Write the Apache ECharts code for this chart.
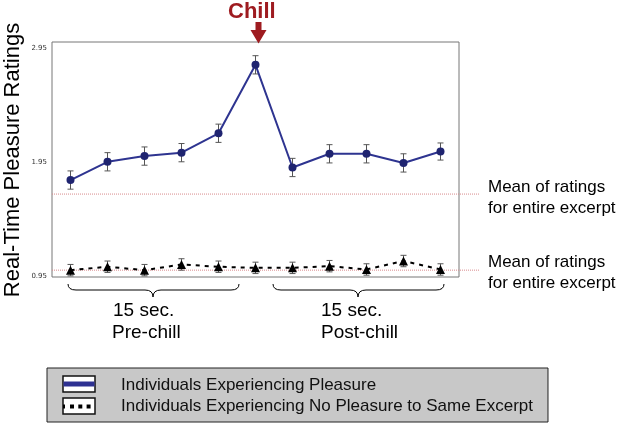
<!DOCTYPE html>
<html><head><meta charset="utf-8">
<script src="https://cdn.jsdelivr.net/npm/echarts@6/dist/echarts.min.js"></script>
<style>html,body{margin:0;padding:0;background:#fff}#c{width:619px;height:426px}</style>
</head><body><div id="c"></div>
<script>
const categories = ['1','2','3','4','5','6','7','8','9','10','11'];
const pleasureMeans = [1.79, 1.95, 2.00, 2.03, 2.20, 2.80, 1.90, 2.02, 2.02, 1.94, 2.04];
const pleasureErr = [0.08, 0.08, 0.08, 0.08, 0.08, 0.08, 0.08, 0.08, 0.08, 0.08, 0.075];
const noPleasureMeans = [1.00, 1.03, 1.00, 1.05, 1.03, 1.02, 1.02, 1.035, 1.006, 1.08, 1.006];
const noPleasureErr = [0.05, 0.05, 0.05, 0.05, 0.05, 0.05, 0.05, 0.05, 0.05, 0.05, 0.05];
const excerptMeans = [1.667, 1.0];
const tickLabels = [0.95, 1.95, 2.95];
const seriesNames = ['Individuals Experiencing Pleasure', 'Individuals Experiencing No Pleasure to Same Excerpt'];
const yTitle = 'Real-Time Pleasure Ratings';

const FONT = 'Liberation Sans, Arial, sans-serif';
const chart = echarts.init(document.getElementById('c'));

function errData(means, errs) {
  return means.map((m, i) => [i, m - errs[i], m + errs[i]]);
}
function errRender(params, api) {
  const x = api.value(0);
  const lo = api.coord([x, api.value(1)]);
  const hi = api.coord([x, api.value(2)]);
  const w = 3;
  const st = { stroke: '#555', lineWidth: 1, fill: null };
  return { type: 'group', children: [
    { type: 'line', shape: { x1: lo[0], y1: lo[1], x2: hi[0], y2: hi[1] }, style: st },
    { type: 'line', shape: { x1: lo[0] - w, y1: lo[1], x2: lo[0] + w, y2: lo[1] }, style: st },
    { type: 'line', shape: { x1: hi[0] - w, y1: hi[1], x2: hi[0] + w, y2: hi[1] }, style: st }
  ]};
}
function brace(x1, tip, x2, yTop, yMid, yTip) {
  const st = { stroke: '#000', lineWidth: 1, fill: null };
  return [
    { type: 'bezierCurve', shape: { x1: x1, y1: yTop, cpx1: x1, cpy1: yMid, x2: x1 + 8, y2: yMid }, style: st },
    { type: 'line', shape: { x1: x1 + 8, y1: yMid, x2: tip - 8, y2: yMid }, style: st },
    { type: 'bezierCurve', shape: { x1: tip - 8, y1: yMid, cpx1: tip, cpy1: yMid, x2: tip, y2: yTip }, style: st },
    { type: 'bezierCurve', shape: { x1: tip, y1: yTip, cpx1: tip, cpy1: yMid, x2: tip + 8, y2: yMid }, style: st },
    { type: 'line', shape: { x1: tip + 8, y1: yMid, x2: x2 - 8, y2: yMid }, style: st },
    { type: 'bezierCurve', shape: { x1: x2 - 8, y1: yMid, cpx1: x2, cpy1: yMid, x2: x2, y2: yTop }, style: st }
  ];
}

const option = {
  animation: false,
  backgroundColor: '#fff',
  grid: [
    { left: 52, top: 42, width: 407, height: 235, show: true, borderColor: '#777', borderWidth: 1,
      backgroundColor: 'transparent', z: 0, containLabel: false, outerBoundsMode: 'none' },
    { left: 52, top: 42, width: 428, height: 235, show: false, containLabel: false, outerBoundsMode: 'none' }
  ],
  xAxis: [
    { type: 'category', data: categories, gridIndex: 0, boundaryGap: true,
      axisLine: { show: false }, axisTick: { show: false }, axisLabel: { show: false }, splitLine: { show: false } },
    { type: 'value', gridIndex: 1, min: 0, max: 1, show: false }
  ],
  yAxis: [
    { type: 'value', gridIndex: 0, min: 0.94, max: 3.0, interval: 0.01,
      axisLine: { show: false }, axisTick: { show: false }, splitLine: { show: false },
      axisLabel: { fontFamily: 'DejaVu Sans, sans-serif', fontSize: 7, color: '#333', margin: 5,
        formatter: v => tickLabels.some(t => Math.abs(t - v) < 0.001) ? v.toFixed(2) : '' } },
    { type: 'value', gridIndex: 1, min: 0.94, max: 3.0, show: false }
  ],
  legend: {
    orient: 'vertical', left: 47, top: 368,
    padding: [9, 15, 7, 16], itemGap: 4, itemWidth: 32, itemHeight: 16,
    backgroundColor: '#c8c8c8', borderColor: '#222', borderWidth: 1,
    itemStyle: { opacity: 0 }, lineStyle: { opacity: 0 },
    textStyle: { fontFamily: FONT, fontSize: 17, color: '#111', padding: [0, 0, 0, 20] },
    selectedMode: false,
    data: seriesNames
  },
  series: [
    { type: 'line', xAxisIndex: 1, yAxisIndex: 1, silent: true, symbol: 'none', z: 1,
      data: [[0, excerptMeans[0]], [1, excerptMeans[0]]],
      lineStyle: { color: '#d98a8c', width: 1, type: [1, 1] } },
    { type: 'line', xAxisIndex: 1, yAxisIndex: 1, silent: true, symbol: 'none', z: 1,
      data: [[0, excerptMeans[1]], [1, excerptMeans[1]]],
      lineStyle: { color: '#d98a8c', width: 1, type: [1, 1] } },
    { type: 'custom', renderItem: errRender, data: errData(pleasureMeans, pleasureErr),
      encode: { x: 0, y: [1, 2] }, z: 2 },
    { type: 'custom', renderItem: errRender, data: errData(noPleasureMeans, noPleasureErr),
      encode: { x: 0, y: [1, 2] }, z: 2 },
    { name: seriesNames[0], type: 'line', data: pleasureMeans, z: 3,
      symbol: 'circle', symbolSize: 8,
      itemStyle: { color: '#1f2470' },
      lineStyle: { color: '#2e3490', width: 2 } },
    { name: seriesNames[1], type: 'line', data: noPleasureMeans, z: 3,
      symbol: 'triangle', symbolSize: 9,
      itemStyle: { color: '#000' },
      lineStyle: { color: '#000', width: 2, type: [4, 5] } }
  ],
  graphic: [
    { type: 'text', x: 13, y: 160, rotation: Math.PI / 2,
      style: { text: yTitle, font: '22px ' + FONT, fill: '#000', align: 'center', verticalAlign: 'middle' } },
    { type: 'text', left: 228, top: 1, style: { text: 'Chill', font: 'bold 22px ' + FONT, fill: '#9e1b20' } },
    { type: 'polygon', shape: { points: [[255.5,22],[261.5,22],[261.5,30],[266.5,30],[258.5,43.5],[250.5,30],[255.5,30]] },
      style: { fill: '#9e1b20' } },
    { type: 'text', left: 488, top: 177, style: { text: 'Mean of ratings\nfor entire excerpt', font: '17px ' + FONT, fill: '#000', lineHeight: 21 } },
    { type: 'text', left: 488, top: 252, style: { text: 'Mean of ratings\nfor entire excerpt', font: '17px ' + FONT, fill: '#000', lineHeight: 21 } },
    ...brace(68, 153, 239, 284, 290, 297),
    ...brace(273, 358, 444, 284, 290, 297),
    { type: 'text', left: 113, top: 301, style: { text: '15 sec.', font: '19px ' + FONT, fill: '#000' } },
    { type: 'text', left: 112, top: 323, style: { text: 'Pre-chill', font: '19px ' + FONT, fill: '#000' } },
    { type: 'text', left: 321, top: 301, style: { text: '15 sec.', font: '19px ' + FONT, fill: '#000' } },
    { type: 'text', left: 321, top: 323, style: { text: 'Post-chill', font: '19px ' + FONT, fill: '#000' } },
    { type: 'rect', shape: { x: 63, y: 376, width: 32, height: 16 }, style: { fill: '#fff', stroke: '#111', lineWidth: 1.5 }, z: 200 },
    { type: 'rect', shape: { x: 63.5, y: 381.5, width: 31, height: 5 }, style: { fill: '#2e3192' }, z: 201 },
    { type: 'rect', shape: { x: 63, y: 398, width: 32, height: 16 }, style: { fill: '#fff', stroke: '#111', lineWidth: 1.5 }, z: 200 },
    { type: 'rect', shape: { x: 63, y: 404.5, width: 2, height: 4 }, style: { fill: '#000' }, z: 201 },
    { type: 'rect', shape: { x: 70, y: 404.5, width: 4, height: 4 }, style: { fill: '#000' }, z: 201 },
    { type: 'rect', shape: { x: 78.3, y: 404.5, width: 4, height: 4 }, style: { fill: '#000' }, z: 201 },
    { type: 'rect', shape: { x: 86.6, y: 404.5, width: 4, height: 4 }, style: { fill: '#000' }, z: 201 }
  ]
};
chart.setOption(option);
</script>
</body></html>
